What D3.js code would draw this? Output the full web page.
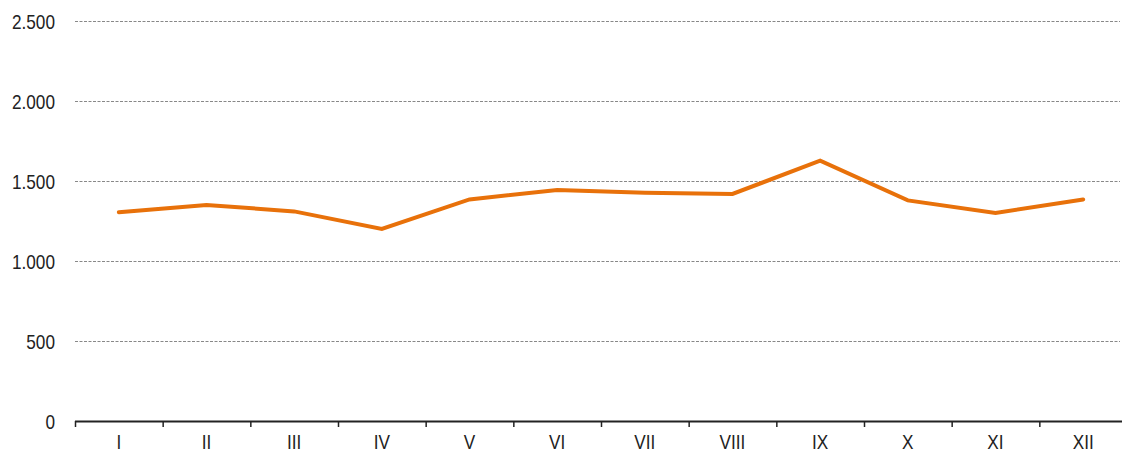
<!DOCTYPE html>
<html><head><meta charset="utf-8">
<script src="https://cdn.jsdelivr.net/npm/d3@7"></script>
<style>
body{margin:0;background:#fff;}
text{font-family:"Liberation Sans Narrow","Arial Narrow","Liberation Sans",Arial,sans-serif;font-size:20px;fill:#222;}
</style></head>
<body><svg id="c" width="1122" height="454"></svg>
<script>
const categories = ["I","II","III","IV","V","VI","VII","VIII","IX","X","XI","XII"];
const values = [1305,1350,1310,1200,1385,1444,1427,1419,1627,1379,1300,1385];
const yTicks = [0,500,1000,1500,2000,2500];
const yTickLabels = ["0","500","1.000","1.500","2.000","2.500"];

const svg = d3.select("#c");
const x = d3.scaleBand().domain(categories).range([75,1127]).padding(0);
const y = d3.scaleLinear().domain([0,2500]).range([421,21]);
const sx = 0.86;

// gridlines
svg.append("g").selectAll("line").data(yTicks.filter(d=>d>0)).join("line")
  .attr("x1",75).attr("x2",1120)
  .attr("y1",d=>Math.round(y(d))+0.5).attr("y2",d=>Math.round(y(d))+0.5)
  .attr("stroke","#888").attr("stroke-width",1).attr("stroke-dasharray","3,1.5");

// y labels
svg.append("g").selectAll("text").data(yTicks).join("text")
  .attr("transform",d=>`translate(55,${y(d)+8}) scale(${sx},1)`)
  .attr("text-anchor","end").text((d,i)=>yTickLabels[i]);

// x axis
const xa = svg.append("g");
xa.append("line").attr("x1",75).attr("x2",1122).attr("y1",421.5).attr("y2",421.5)
  .attr("stroke","#222").attr("stroke-width",2);
const bounds = categories.map(c=>x(c));
xa.selectAll("line.t").data(bounds).join("line").attr("class","t")
  .attr("x1",d=>d+0.5).attr("x2",d=>d+0.5).attr("y1",421).attr("y2",427)
  .attr("stroke","#222").attr("stroke-width",1.5);
xa.selectAll("text").data(categories).join("text")
  .attr("transform",d=>`translate(${x(d)+x.bandwidth()/2},449) scale(${sx},1)`)
  .attr("text-anchor","middle").text(d=>d);

// line
const line = d3.line().x((d,i)=>x(categories[i])+x.bandwidth()/2).y(d=>y(d));
svg.append("path").datum(values).attr("d",line)
  .attr("fill","none").attr("stroke","#E8710A").attr("stroke-width",4)
  .attr("stroke-linejoin","miter").attr("stroke-linecap","round");
</script></body></html>
